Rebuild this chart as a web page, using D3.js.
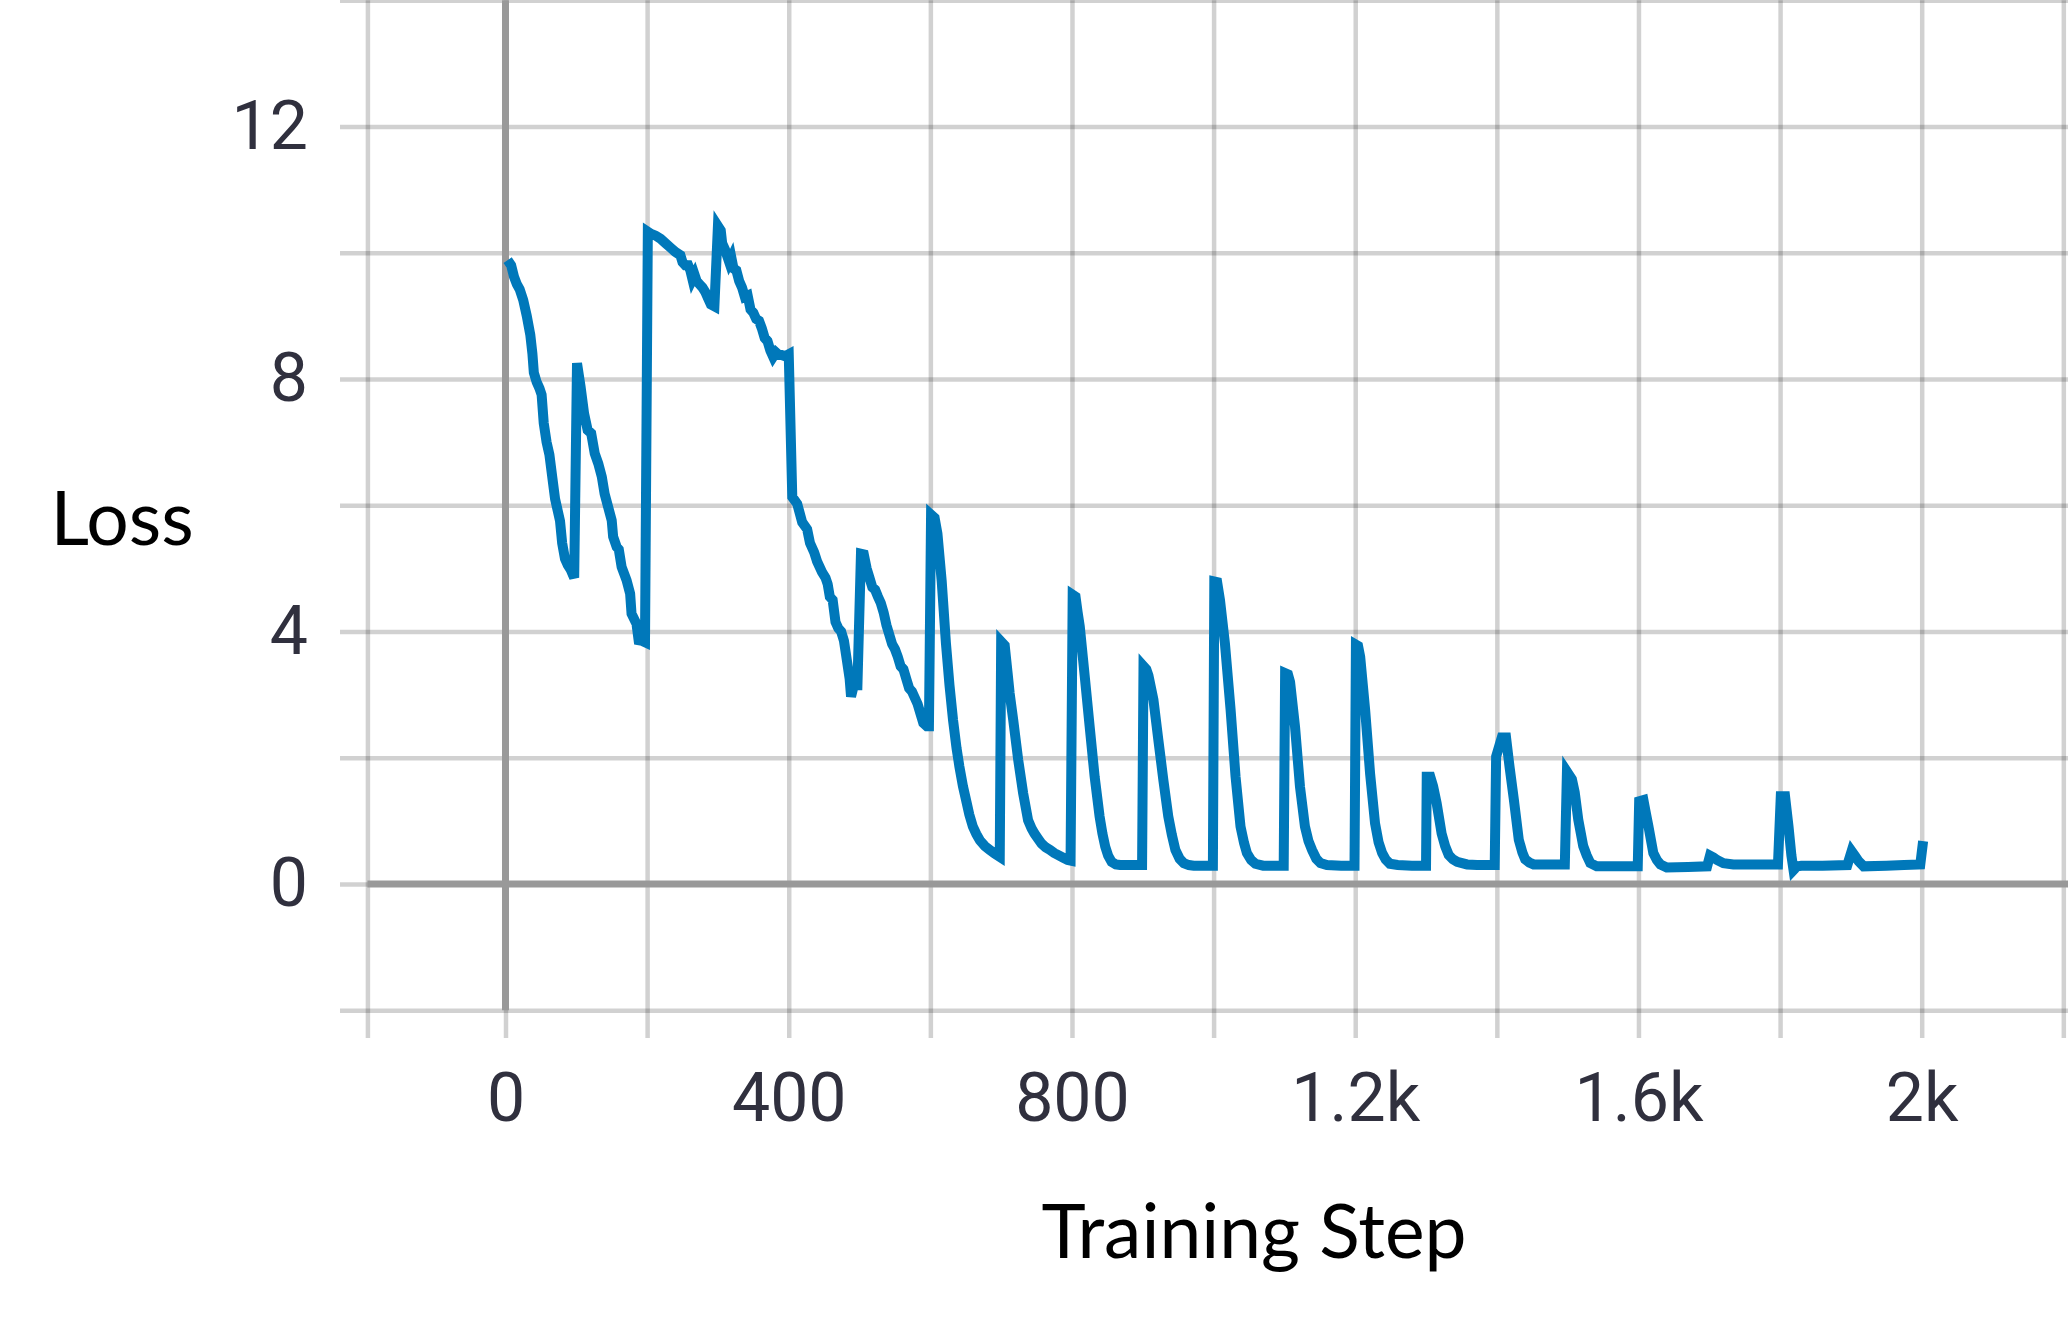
<!DOCTYPE html>
<html><head><meta charset="utf-8">
<script src="https://cdn.jsdelivr.net/npm/d3@7"></script>
<style>html,body{margin:0;padding:0;background:#fff;overflow:hidden;} svg{display:block;}</style>
</head><body>
<svg id="chart" width="2068" height="1331"></svg>
<script>
// ---- data ----
const steps = [
  3,8,12,16,20,25,30,35,38,40,44,48,51,54,58,62,66,70,74,77,80,84,88,92,97,
  101,106,111,116,121,126,131,136,140,145,150,152,157,160,164,171,176,178,185,188,193,197,
  201,205,212,219,226,233,240,247,250,254,258,261,264,267,270,274,278,282,286,290,295,
  300,304,306,310,313,316,319,322,326,330,334,338,342,346,350,354,358,362,366,370,374,378,382,386,390,395,
  400,405,412,419,426,430,436,440,447,452,455,458,462,466,470,474,478,482,486,488,492,497,
  502,506,510,514,518,522,526,530,534,538,542,546,550,554,558,562,566,570,574,578,582,586,590,595,598,
  601,606,610,616,622,627,632,637,641,646,651,655,660,665,670,677,684,691,698,
  700,705,709,712,717,724,731,738,743,747,752,757,763,769,775,780,787,794,798,
  801,805,808,811,818,825,832,839,843,847,851,856,862,868,880,890,899,
  901,905,908,915,922,929,936,941,946,952,958,965,972,985,999,
  1001,1005,1009,1016,1024,1031,1038,1043,1047,1053,1059,1070,1085,1099,
  1101,1105,1108,1115,1122,1129,1134,1139,1145,1151,1160,1180,1199,
  1201,1204,1207,1214,1221,1228,1233,1238,1243,1249,1260,1280,1300,
  1301,1306,1310,1315,1322,1327,1332,1338,1344,1358,1372,1397,
  1399,1407,1413,1418,1424,1431,1436,1440,1446,1452,1470,1496,
  1499,1506,1510,1515,1522,1527,1532,1541,1570,1599,
  1601,1607,1610,1614,1621,1626,1631,1640,1670,1697,
  1701,1706,1711,1720,1734,1760,1797,
  1801,1807,1812,1816,1819,1824,1830,1860,1895,
  1901,1906,1911,1918,1950,1975,1998,2002
];
const loss = [
  9.88,9.80,9.62,9.50,9.42,9.25,9.00,8.70,8.40,8.10,7.95,7.85,7.75,7.30,7.00,6.80,6.45,6.10,5.90,5.75,5.40,5.15,5.05,4.98,4.85,
  8.25,7.88,7.45,7.19,7.14,6.82,6.66,6.45,6.18,5.97,5.76,5.50,5.34,5.30,5.02,4.81,4.60,4.28,4.12,3.86,3.85,3.83,
  10.33,10.30,10.27,10.22,10.15,10.08,10.01,9.96,9.85,9.80,9.80,9.72,9.58,9.65,9.55,9.50,9.45,9.38,9.28,9.18,9.15,
  10.42,10.35,10.15,10.05,9.95,9.85,9.92,9.75,9.72,9.55,9.45,9.30,9.32,9.10,9.05,8.95,8.92,8.80,8.65,8.60,8.45,8.35,8.42,8.38,8.38,8.36,
  8.39,6.13,6.02,5.73,5.62,5.40,5.25,5.11,4.94,4.85,4.75,4.55,4.50,4.15,4.05,4.00,3.85,3.55,3.25,2.97,3.15,3.15,
  5.23,5.22,5.00,4.85,4.70,4.66,4.55,4.45,4.30,4.10,3.95,3.80,3.72,3.60,3.45,3.40,3.25,3.10,3.05,2.95,2.85,2.70,2.55,2.50,2.50,
  5.85,5.80,5.55,4.80,3.81,3.15,2.60,2.15,1.86,1.55,1.30,1.10,0.91,0.79,0.69,0.60,0.54,0.48,0.43,
  3.84,3.78,3.35,3.02,2.60,1.97,1.44,1.01,0.88,0.80,0.72,0.64,0.58,0.54,0.49,0.46,0.42,0.38,0.37,
  4.58,4.55,4.30,4.08,3.29,2.49,1.70,1.07,0.80,0.59,0.45,0.35,0.31,0.30,0.30,0.30,0.30,
  3.45,3.40,3.30,2.92,2.28,1.65,1.07,0.78,0.54,0.40,0.33,0.30,0.29,0.29,0.29,
  4.79,4.78,4.50,3.81,2.76,1.70,0.91,0.65,0.49,0.38,0.32,0.29,0.29,0.29,
  3.34,3.32,3.20,2.49,1.54,0.91,0.68,0.54,0.40,0.33,0.30,0.29,0.29,
  3.79,3.77,3.60,2.76,1.75,0.96,0.66,0.49,0.39,0.32,0.30,0.29,0.29,
  1.70,1.70,1.55,1.28,0.80,0.60,0.46,0.39,0.35,0.31,0.30,0.30,
  2.02,2.32,2.32,1.85,1.34,0.70,0.50,0.39,0.34,0.31,0.31,0.31,
  1.78,1.66,1.45,1.02,0.60,0.45,0.33,0.28,0.28,0.28,
  1.31,1.33,1.15,0.92,0.49,0.38,0.31,0.26,0.27,0.28,
  0.45,0.42,0.38,0.33,0.31,0.31,0.31,
  1.39,1.39,0.90,0.45,0.22,0.28,0.29,0.29,0.30,
  0.52,0.44,0.36,0.28,0.29,0.30,0.31,0.68
];
const xTickValues = [0, 400, 800, 1200, 1600, 2000];
const xTickLabels = ["0", "400", "800", "1.2k", "1.6k", "2k"];
const yTickValues = [0, 4, 8, 12];
const yTickLabels = ["0", "4", "8", "12"];
const xGridValues = [-195, 0, 200, 400, 600, 800, 1000, 1200, 1400, 1600, 1800, 2000, 2200];
const yGridValues = [-2, 0, 2, 4, 6, 8, 10, 12, 14];
const xTitle = "Training Step";
const yTitle = "Loss";

// ---- drawing ----
const svg = d3.select("#chart");
const x = d3.scaleLinear().domain([0, 2000]).range([505.5, 1921.7]);
const y = d3.scaleLinear().domain([0, 12]).range([884, 126.4]);

const gridColor = "rgba(0,0,0,0.18)";
const gridTop = y(14), gridBottom = 1038, gridLeft = 340, rightEdge = 2068;

// vertical grid lines (with ticks extending below plot)
const gx = svg.append("g").attr("transform", `translate(0,${gridBottom})`)
  .call(d3.axisBottom(x).tickValues(xGridValues).tickSize(-(gridBottom - gridTop)).tickFormat(""));
gx.select(".domain").remove();
gx.selectAll(".tick line").attr("stroke", gridColor).attr("stroke-width", 4.5);

// horizontal grid lines (with ticks extending left)
const gy = svg.append("g").attr("transform", `translate(${gridLeft},0)`)
  .call(d3.axisLeft(y).tickValues(yGridValues).tickSize(-(rightEdge - gridLeft)).tickFormat(""));
gy.select(".domain").remove();
gy.selectAll(".tick line").attr("stroke", gridColor).attr("stroke-width", 4.5);

// zero axes
svg.append("line")
  .attr("x1", x(0)).attr("x2", x(0))
  .attr("y1", gridTop).attr("y2", y(-2))
  .attr("stroke", "#999").attr("stroke-width", 7);
svg.append("line")
  .attr("x1", x(-195)).attr("x2", rightEdge)
  .attr("y1", y(0)).attr("y2", y(0))
  .attr("stroke", "#999").attr("stroke-width", 7);

// tick labels
const labelFont = "Roboto, sans-serif";
const labelColor = "#30303e";
const xl = svg.append("g").attr("transform", `translate(0,${y(-2)})`)
  .call(d3.axisBottom(x).tickValues(xTickValues).tickSize(0).tickPadding(62)
    .tickFormat((d, i) => xTickLabels[i]));
xl.select(".domain").remove();
xl.selectAll("text").attr("font-family", labelFont).attr("font-size", 68).attr("fill", labelColor);

const yl = svg.append("g").attr("transform", `translate(${gridLeft},0)`)
  .call(d3.axisLeft(y).tickValues(yTickValues).tickSize(0).tickPadding(32)
    .tickFormat((d, i) => yTickLabels[i]));
yl.select(".domain").remove();
yl.selectAll("text").attr("font-family", labelFont).attr("font-size", 68).attr("fill", labelColor);

// axis titles
svg.append("text").text(yTitle)
  .attr("x", 122).attr("y", 545).attr("text-anchor", "middle")
  .attr("font-family", "Lato, sans-serif").attr("font-size", 75).attr("fill", "#000");
svg.append("text").text(xTitle)
  .attr("x", 1254).attr("y", 1258).attr("text-anchor", "middle")
  .attr("font-family", "Lato, sans-serif").attr("font-size", 75).attr("fill", "#000");

// loss line
const points = steps.map((s, i) => [s, loss[i]]);
svg.append("path")
  .datum(points)
  .attr("fill", "none")
  .attr("stroke", "#0078ba")
  .attr("stroke-width", 10)
  .attr("stroke-linejoin", "miter")
  .attr("d", d3.line().x(d => x(d[0])).y(d => y(d[1])));
</script>
</body></html>
